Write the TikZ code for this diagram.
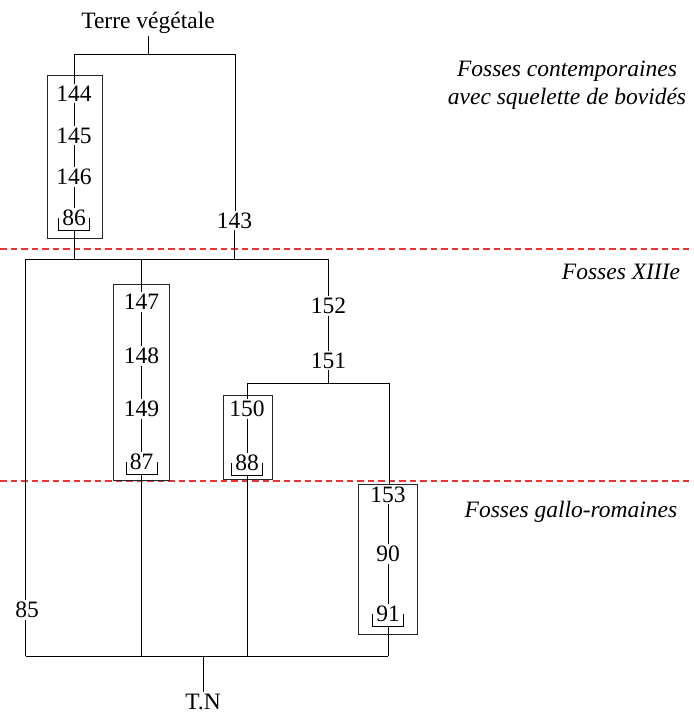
\documentclass[tikz,border=0pt]{standalone}
\usepackage{fontspec}
\setmainfont{Liberation Serif}
\usetikzlibrary{calc}
\definecolor{sepred}{RGB}{232,52,52}
\begin{document}
\begin{tikzpicture}[x=1pt,y=-1pt,
  lab/.style={inner sep=1.8pt, font=\fontsize{23.5}{28}\selectfont},
  per/.style={inner sep=0pt, font=\fontsize{23.5}{28}\selectfont\itshape, anchor=base},
  ln/.style={line width=0.9pt, black},
  boxs/.style={draw=black!85, line width=1pt},
  sepl/.style={draw=sepred, line width=1.3pt, dash pattern=on 6.5pt off 4pt}]
\useasboundingbox (0,0) rectangle (693,714);

% period separators
\draw[sepl] (0,249) -- (693,249);
\draw[sepl] (0,481) -- (693,481);

% period labels
\node[per] (pa) at (567,76.7) {Fosses contemporaines};
\node[per] (pb) at (567,105) {avec squelette de bovidés};
\node[per] (pc) at (621,279.3) {Fosses XIIIe};
\node[per] (pd) at (571,517) {Fosses gallo-romaines};

% boxes
\draw[boxs] (47,76) rectangle (102,238);
\draw[boxs] (113,284) rectangle (169,480);
\draw[boxs] (223,395) rectangle (272,479);
\draw[boxs] (358,484) rectangle (417,634);

% labels
\node[lab] (tv) at (148,23) {Terre végétale};
\node[lab] (n144) at (74,93.5) {144};
\node[lab] (n145) at (74,135.5) {145};
\node[lab] (n146) at (74,177) {146};
\node[lab] (n86) at (74,218) {86};
\node[lab] (n143) at (234.5,220.5) {143};
\node[lab] (n147) at (141.5,302) {147};
\node[lab] (n148) at (141.5,356) {148};
\node[lab] (n149) at (141.5,409) {149};
\node[lab] (n87) at (141.5,462) {87};
\node[lab] (n152) at (328.5,306) {152};
\node[lab] (n151) at (328.5,360.5) {151};
\node[lab] (n150) at (247,409) {150};
\node[lab] (n88) at (247,462.5) {88};
\node[lab] (n153) at (388,494.5) {153};
\node[lab] (n90) at (388,554) {90};
\node[lab] (n91) at (388,614) {91};
\node[lab] (n85) at (27,610) {85};
\node[lab] (tn) at (203,701.5) {T.N};

% brackets under final pits
\foreach \n in {n86,n87,n88,n91}{
  \draw[ln] ($(\n)+(-15.5,0)$) |- ($(\n)+(15.5,12.5)$) -- ($(\n)+(15.5,0)$);
  \coordinate (b\n) at ($(\n)+(0,12.5)$);
}

% junction coordinates
\coordinate (h0L) at (74,54);
\coordinate (h0R) at (235,54);
\coordinate (h1L) at (25.5,259);
\coordinate (h1R) at (328.5,259);
\coordinate (h2L) at (247,383);
\coordinate (h2R) at (389,383);
\coordinate (h3L) at (25.5,656);
\coordinate (h3R) at (388,656);

% top tree
\draw[ln] (tv) -- (tv |- h0L);
\draw[ln] (h0L) -- (h0R);
\draw[ln] (h0L) -- (n144);
\draw[ln] (n144) -- (n145);
\draw[ln] (n145) -- (n146);
\draw[ln] (n146) -- (n86);
\draw[ln] (h0R) -- (h0R |- n143.north);
\draw[ln] (bn86) -- (bn86 |- h1L);
\draw[ln] (n143) -- (n143 |- h1L);

% XIIIe level
\draw[ln] (h1L) -- (h1R);
\draw[ln] (h1L) -- (h1L |- n85.north);
\draw[ln] (n147 |- h1L) -- (n147);
\draw[ln] (n147) -- (n148);
\draw[ln] (n148) -- (n149);
\draw[ln] (n149) -- (n87);
\draw[ln] (h1R) -- (n152);
\draw[ln] (n152) -- (n151);
\draw[ln] (n151) -- (n151 |- h2L);
\draw[ln] (h2L) -- (h2R);
\draw[ln] (h2L) -- (n150);
\draw[ln] (n150) -- (n88);
\draw[ln] (h2R) -- (h2R |- n153.north);
\draw[ln] (n153) -- (n90);
\draw[ln] (n90) -- (n91);

% bottom bus
\draw[ln] (h3L) -- (h3R);
\draw[ln] (h3L |- n85.south) -- (h3L);
\draw[ln] (bn87) -- (bn87 |- h3L);
\draw[ln] (bn88) -- (bn88 |- h3L);
\draw[ln] (bn91) -- (bn91 |- h3L);
\draw[ln] (tn |- h3L) -- (tn);
\end{tikzpicture}
\end{document}
